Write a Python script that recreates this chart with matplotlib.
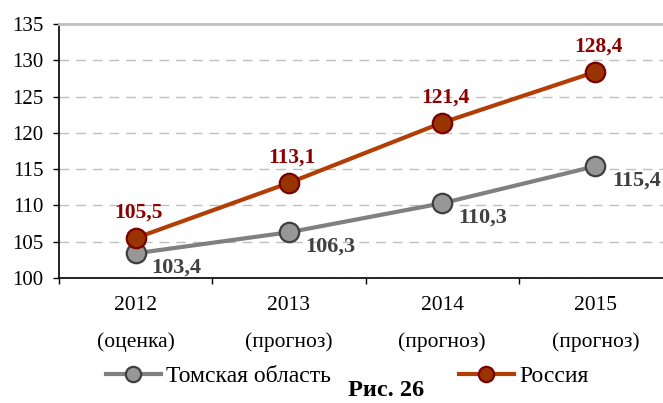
import matplotlib
matplotlib.use("Agg")
import matplotlib.pyplot as plt
from matplotlib.lines import Line2D

categories = ["2012\n(оценка)", "2013\n(прогноз)", "2014\n(прогноз)", "2015\n(прогноз)"]
tomsk = [103.4, 106.3, 110.3, 115.4]
russia = [105.5, 113.1, 121.4, 128.4]
series_names = ["Томская область", "Россия"]
y_ticks = [100, 105, 110, 115, 120, 125, 130, 135]
caption = "Рис. 26"

plt.rcParams['font.family'] = ['Liberation Serif', 'DejaVu Serif']

W, H = 663, 403
fig = plt.figure(figsize=(W / 100, H / 100), dpi=100)
ax = fig.add_axes([59 / W, (H - 278) / H, (672 - 59) / W, (278 - 24) / H])

x = list(range(len(categories)))

tomsk_line = '#808080'
tomsk_fill = '#979797'
tomsk_edge = '#3f3f3f'
rus_line = '#B23E05'
rus_fill = '#993300'
rus_edge = '#7a0000'

ax.plot(x, tomsk, color=tomsk_line, lw=3.0, marker='o', ms=14,
        mfc=tomsk_fill, mec=tomsk_edge, mew=1.6, zorder=3, solid_capstyle='butt')
ax.plot(x, russia, color=rus_line, lw=3.0, marker='o', ms=14,
        mfc=rus_fill, mec=rus_edge, mew=1.6, zorder=4, solid_capstyle='butt')

def fmt(v):
    return f"{v:.1f}".replace('.', ',')

for xi, v in zip(x, russia):
    ax.annotate(fmt(v), (xi, v), xytext=(3, 25), textcoords='offset pixels',
                ha='center', va='center', fontsize=15.5, fontweight='bold',
                color='#8B0000', zorder=5)
for xi, v in zip(x, tomsk):
    ax.annotate(fmt(v), (xi, v), xytext=(41, -14), textcoords='offset pixels',
                ha='center', va='center', fontsize=16, fontweight='bold',
                color='#404040', zorder=5)

ax.set_xlim(-0.5, len(categories) - 0.5)
ax.set_ylim(y_ticks[0], y_ticks[-1])
ax.set_yticks(y_ticks)
ax.set_yticklabels([str(t) for t in y_ticks])
ax.tick_params(axis='y', direction='out', length=4.3, width=1, color='black',
               labelsize=15, pad=7)

ax.set_xticks([i - 0.5 for i in x])
ax.set_xticklabels([])
ax.set_xticks(x, minor=True)
ax.set_xticklabels(categories, minor=True, fontsize=15.5, linespacing=2.15)
ax.tick_params(axis='x', which='major', direction='out', length=4.3, width=1)
ax.tick_params(axis='x', which='minor', length=0, pad=13)

ax.grid(axis='y', color='#c0c0c0', lw=1.0, ls=(0, (7, 5)))
ax.set_axisbelow(True)

ax.spines['right'].set_visible(False)
ax.spines['top'].set_color('#c0c0c0')
ax.spines['top'].set_linewidth(2)
ax.spines['left'].set_color('black')
ax.spines['bottom'].set_color('black')
ax.spines['left'].set_linewidth(1.2)
ax.spines['bottom'].set_linewidth(1.2)

handles = [
    Line2D([], [], color=tomsk_line, lw=3.0, marker='o', ms=11, mfc=tomsk_fill, mec=tomsk_edge, mew=1.6),
    Line2D([], [], color=rus_line, lw=3.0, marker='o', ms=11, mfc=rus_fill, mec=rus_edge, mew=1.6),
]
fig.legend(handles, series_names, loc='center', bbox_to_anchor=(0.5234, (H - 376) / H),
           ncol=2, frameon=False, fontsize=17, handlelength=2.33, handletextpad=0.23,
           columnspacing=5.4, borderaxespad=0, borderpad=0)

fig.text(386 / W, (H - 396) / H, caption, ha='center', va='baseline',
         fontsize=17.5, fontweight='bold', color='black')

fig.savefig('out.png', dpi=100)
